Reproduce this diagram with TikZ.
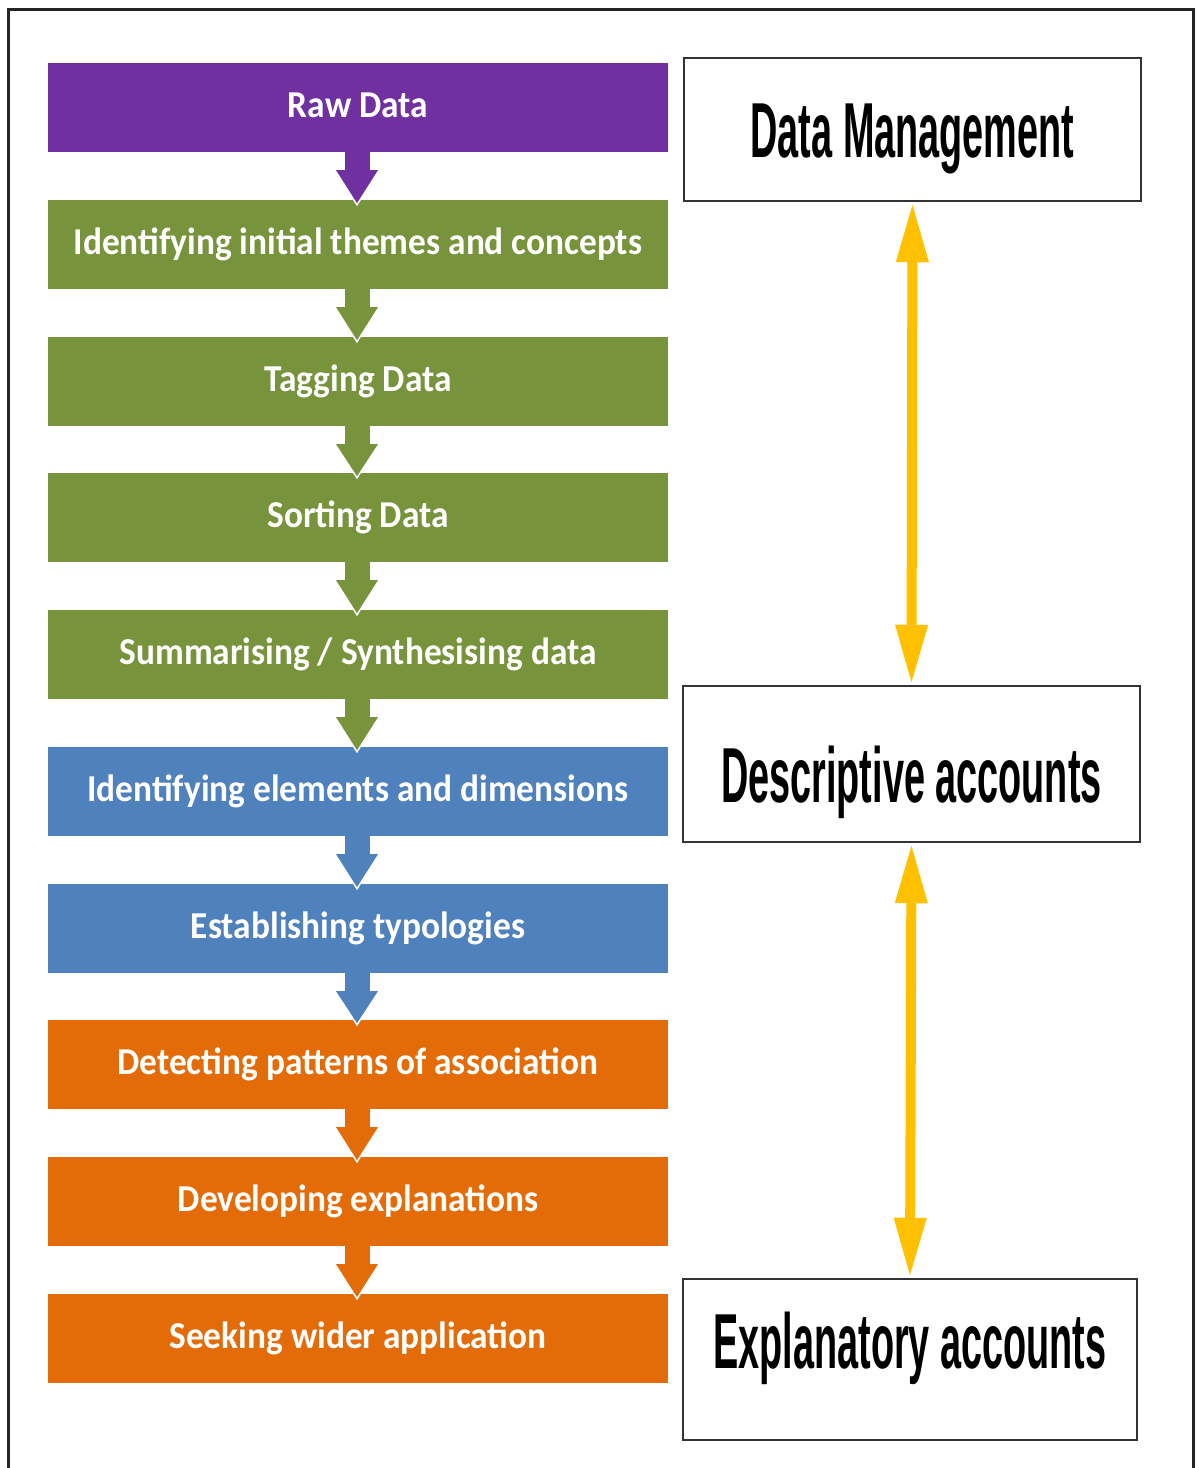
\documentclass[tikz,border=0pt]{standalone}
\usepackage{fontspec}
\newfontfamily\barfont[FakeStretch=0.93]{Carlito}
\newfontfamily\boxfont[FakeStretch=0.485]{Liberation Sans}
\usetikzlibrary{arrows.meta,calc}
\definecolor{cpurple}{HTML}{7030A0}
\definecolor{cgreen}{HTML}{77933C}
\definecolor{cblue}{HTML}{4F81BD}
\definecolor{corange}{HTML}{E36C09}
\definecolor{cyellow}{HTML}{FFC000}
\newcommand\barlink[3]{%
  \fill[#3] ($(#1.south)+(-13,-1)$) rectangle ($(#1.south)+(12,19)$);
  \fill[#3] ($(#1.south)+(-23,18)$) -- ($(#2.north)+(-1,5)$) -- ($(#1.south)+(21,18)$) -- cycle;
  \draw[white,line width=1.5pt,line join=miter] ($(#1.south)+(-23,18)$) -- ($(#2.north)+(-1,5)$) -- ($(#1.south)+(21,18)$);
}
\begin{document}
\begin{tikzpicture}[x=1pt,y=-1pt,
  bar/.style={rectangle, minimum width=620pt, minimum height=89pt, inner sep=0pt,
    text=white, font=\barfont\bfseries\fontsize{38}{40}\selectfont,
    text height=24pt, text depth=5pt},
  rbox/.style={rectangle, draw=black!80, line width=2.5pt, fill=white, inner sep=0pt,
    font=\boxfont\bfseries\fontsize{78}{80}\selectfont},
  yarrow/.style={cyellow, line width=10pt,
    {Triangle[length=60pt,width=30pt]}-{Triangle[length=60pt,width=30pt]}}
]
\clip (0,0) rectangle (1197,1468);
\draw[black!85, line width=3pt] (8.5,1480) -- (8.5,9.5) -- (1193.5,9.5) -- (1193.5,1480);

\node[bar, fill=cpurple] (b1) at (358,107.5) {Raw Data};
\node[bar, fill=cgreen] (b2) at (358,244.5) {Identifying initial themes and concepts};
\node[bar, fill=cgreen] (b3) at (358,381.5) {Tagging Data};
\node[bar, fill=cgreen] (b4) at (358,517.5) {Sorting Data};
\node[bar, fill=cgreen] (b5) at (358,654.5) {Summarising / Synthesising data};
\node[bar, fill=cblue] (b6) at (358,791.5) {Identifying elements and dimensions};
\node[bar, fill=cblue] (b7) at (358,928.5) {Establishing typologies};
\node[bar, fill=corange] (b8) at (358,1064.5) {Detecting patterns of association};
\node[bar, fill=corange] (b9) at (358,1201.5) {Developing explanations};
\node[bar, fill=corange] (b10) at (358,1338.5) {Seeking wider application};

\barlink{b1}{b2}{cpurple}
\barlink{b2}{b3}{cgreen}
\barlink{b3}{b4}{cgreen}
\barlink{b4}{b5}{cgreen}
\barlink{b5}{b6}{cgreen}
\barlink{b6}{b7}{cblue}
\barlink{b7}{b8}{cblue}
\barlink{b8}{b9}{corange}
\barlink{b9}{b10}{corange}

\node[rbox, minimum width=457pt, minimum height=143pt, text height=56pt, text depth=0pt] (dm) at (912.5,129.5) {Data Management};
\node[rbox, minimum width=457pt, minimum height=156pt, text height=76pt, text depth=0pt] (da) at (911.5,764) {Descriptive accounts};
\node[rbox, minimum width=454pt, minimum height=161pt, text height=56pt, text depth=39pt] (ea) at (910,1359.5) {Explanatory accounts};

\draw[yarrow] (dm.south) -- (da.north);
\draw[yarrow] (da.south) -- (ea.north);
\end{tikzpicture}
\end{document}
